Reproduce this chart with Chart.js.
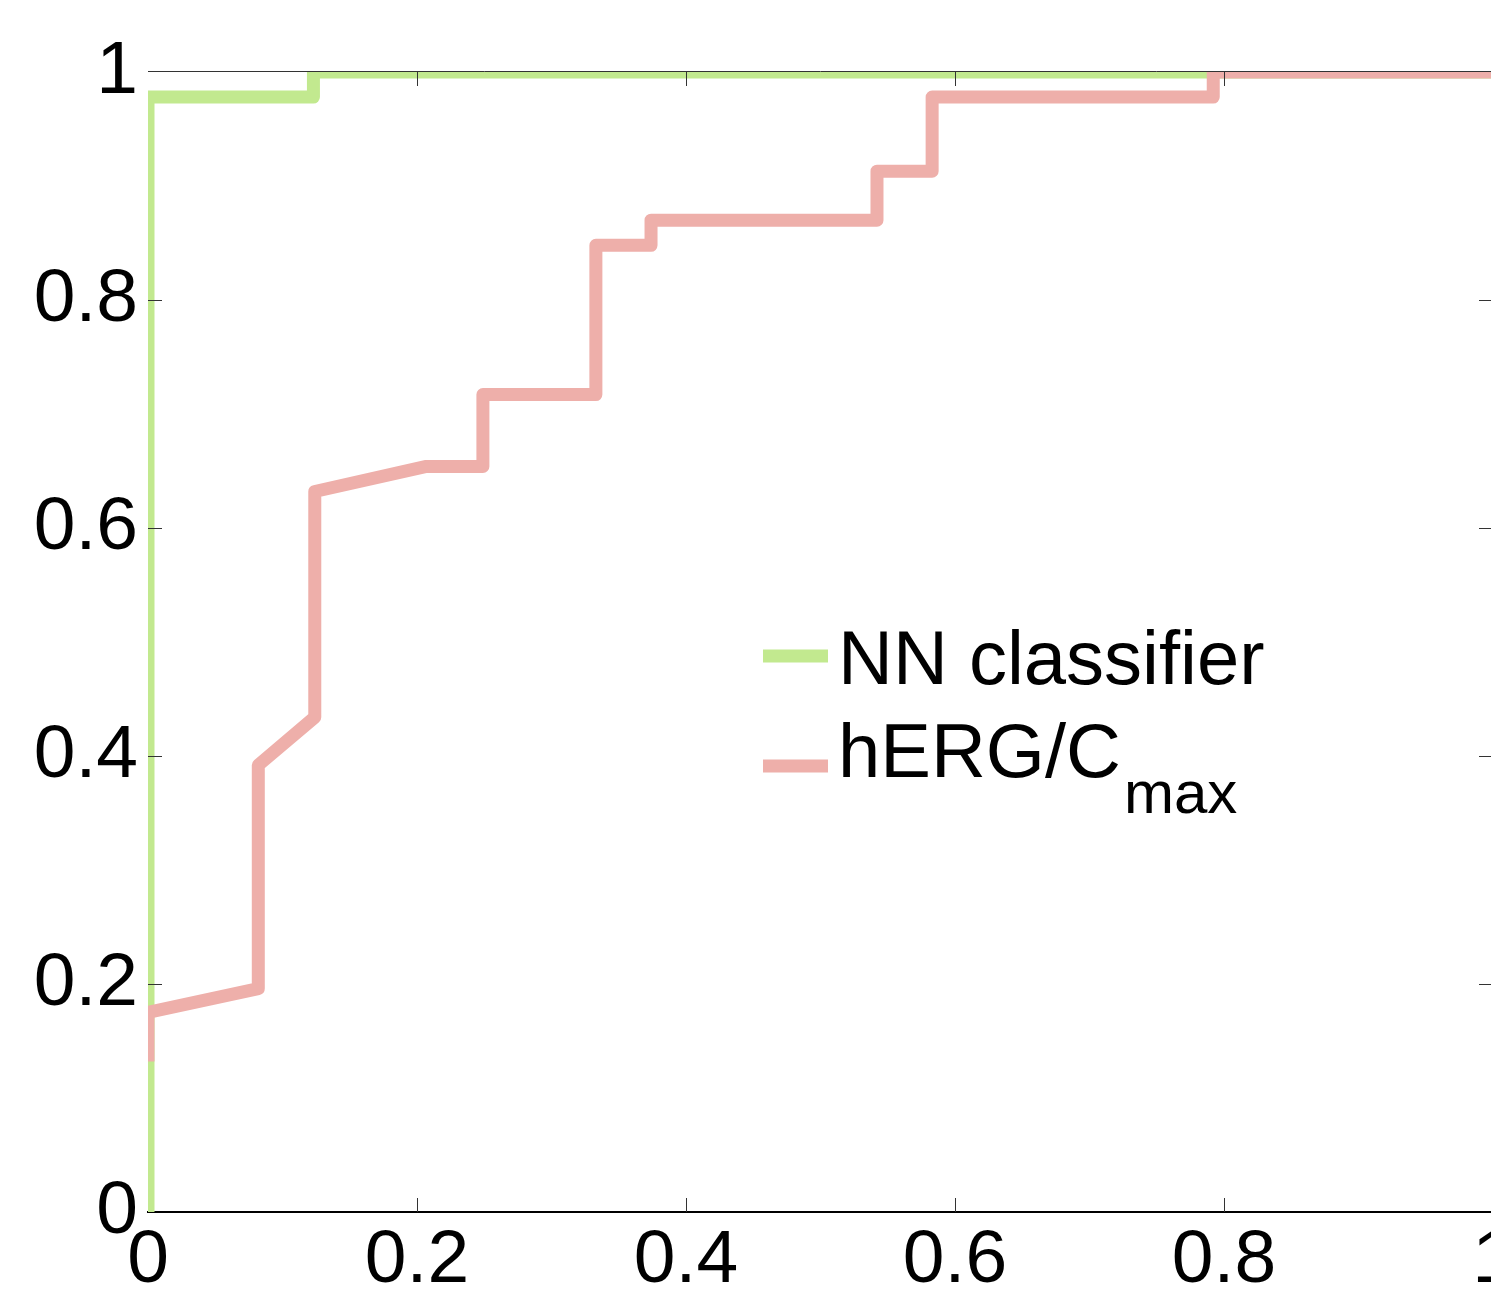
<!DOCTYPE html>
<html><head><meta charset="utf-8">
<script src="https://cdn.jsdelivr.net/npm/chart.js@4"></script>
<style>
html,body{margin:0;padding:0;background:#fff;overflow:hidden;width:1491px;height:1294px}
#wrap{position:absolute;left:0;top:0;width:1560px;height:1294px}
</style>
</head><body>
<div id="wrap"><canvas id="c" width="1560" height="1294"></canvas></div>
<script>
// ---- data ----
const seriesNames = ['NN classifier', 'hERG/C'];
const seriesSub = ['', 'max'];
const nnX = [0, 0, 0.123, 0.123, 1];
const nnY = [0, 0.978, 0.978, 1, 1];
const hergX = [0, 0, 0.082, 0.082, 0.124, 0.124, 0.207, 0.249, 0.249, 0.333, 0.333, 0.374, 0.374, 0.542, 0.542, 0.583, 0.583, 0.792, 0.792, 1];
const hergY = [0.132, 0.175, 0.196, 0.392, 0.434, 0.632, 0.654, 0.654, 0.717, 0.717, 0.848, 0.848, 0.870, 0.870, 0.913, 0.913, 0.978, 0.978, 1, 1];
const tickValues = [0, 0.2, 0.4, 0.6, 0.8, 1];
const xTickLabels = ['0', '0.2', '0.4', '0.6', '0.8', '1'];
const yTickLabels = ['0', '0.2', '0.4', '0.6', '0.8', '1'];

const GREEN = '#c2e98f';
const PINK = '#eeafaa';
const FONT = "'Liberation Sans', Arial, sans-serif";

const toPts = (xs, ys) => xs.map((v, i) => ({x: v, y: ys[i]}));
const labelFor = (labels) => (v) => {
  const i = tickValues.findIndex(t => Math.abs(t - v) < 1e-9);
  return i >= 0 ? labels[i] : '';
};

const decor = {
  id: 'decor',
  afterDatasetsDraw(chart) {
    const {ctx, chartArea: a, scales: {x, y}} = chart;
    ctx.save();
    // top box line
    ctx.strokeStyle = '#333';
    ctx.lineWidth = 1;
    ctx.beginPath();
    ctx.moveTo(a.left, a.top - 0.5); ctx.lineTo(a.right, a.top - 0.5);
    ctx.stroke();
    // inward tick marks
    const L = 14;
    ctx.beginPath();
    tickValues.forEach(v => {
      if (v <= 0 || v >= 1) return;
      const px = Math.round(x.getPixelForValue(v)) + 0.5;
      ctx.moveTo(px, a.bottom); ctx.lineTo(px, a.bottom - L);
      ctx.moveTo(px, a.top); ctx.lineTo(px, a.top + L);
      const py = Math.round(y.getPixelForValue(v)) + 0.5;
      ctx.moveTo(a.left, py); ctx.lineTo(a.left + L, py);
      ctx.moveTo(a.right, py); ctx.lineTo(a.right - L, py);
    });
    ctx.stroke();
    // legend
    const rows = [{c: GREEN, yl: 656, yb: 684}, {c: PINK, yl: 766, yb: 777}];
    rows.forEach((r, i) => {
      ctx.strokeStyle = r.c;
      ctx.lineWidth = 13;
      ctx.lineCap = 'butt';
      ctx.beginPath(); ctx.moveTo(763, r.yl); ctx.lineTo(828, r.yl); ctx.stroke();
      ctx.fillStyle = '#000';
      ctx.font = '76px ' + FONT;
      ctx.textAlign = 'left';
      ctx.textBaseline = 'alphabetic';
      ctx.fillText(seriesNames[i], 838, r.yb);
      if (seriesSub[i]) {
        const w = ctx.measureText(seriesNames[i]).width;
        ctx.font = '60px ' + FONT;
        ctx.fillText(seriesSub[i], 838 + w + 3, r.yb + 36);
      }
    });
    ctx.restore();
  }
};

new Chart(document.getElementById('c'), {
  type: 'line',
  data: {
    datasets: [
      {label: seriesNames[0], data: toPts(nnX, nnY), borderColor: GREEN, borderWidth: 13,
       pointRadius: 0, tension: 0, borderJoinStyle: 'round', borderCapStyle: 'butt', clip: 0, order: 1, fill: false},
      {label: seriesNames[1] + seriesSub[1], data: toPts(hergX, hergY), borderColor: PINK, borderWidth: 13,
       pointRadius: 0, tension: 0, borderJoinStyle: 'round', borderCapStyle: 'butt', clip: 0, order: 0, fill: false}
    ]
  },
  options: {
    responsive: false,
    animation: false,
    devicePixelRatio: 1,
    layout: {padding: {top: 72, right: 67, bottom: 0, left: 0}},
    plugins: {legend: {display: false}, tooltip: {enabled: false}},
    scales: {
      x: {
        type: 'linear', min: 0, max: 1,
        afterFit: s => { s.height = 82; },
        afterBuildTicks: s => { s.ticks = tickValues.map(v => ({value: v})); },
        ticks: {callback: labelFor(xTickLabels), color: '#000', font: {family: FONT, size: 75}, padding: 4, maxRotation: 0, autoSkip: false},
        grid: {display: false, drawTicks: false},
        border: {display: true, color: '#000', width: 2}
      },
      y: {
        type: 'linear', min: 0, max: 1,
        afterFit: s => { s.width = 148; },
        afterBuildTicks: s => { s.ticks = tickValues.map(v => ({value: v})); },
        ticks: {callback: labelFor(yTickLabels), color: '#000', font: {family: FONT, size: 75}, padding: 10, autoSkip: false},
        grid: {display: false, drawTicks: false},
        border: {display: false}
      }
    }
  },
  plugins: [decor]
});
</script>
</body></html>
